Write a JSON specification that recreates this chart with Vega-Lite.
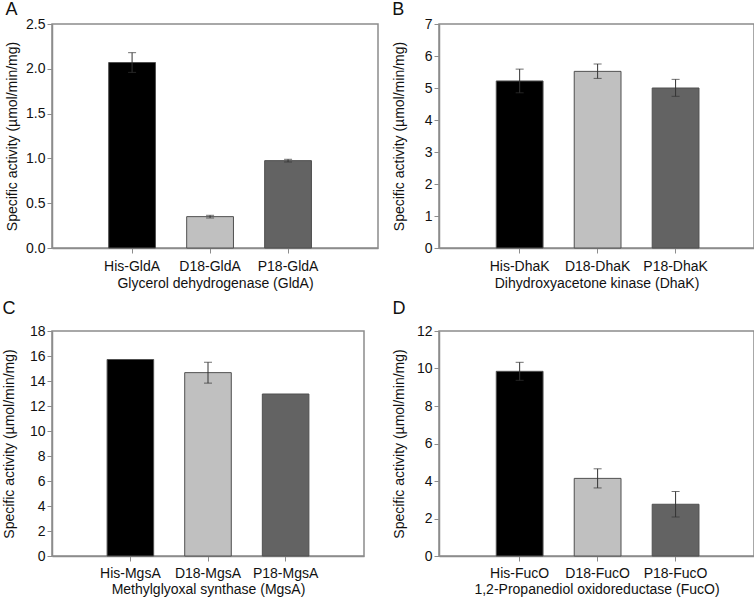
{
  "$schema": "https://vega.github.io/schema/vega-lite/v6.json",
  "padding": {"left": 1, "top": 0, "right": 0, "bottom": 0},
  "background": "white",
  "columns": 2,
  "spacing": {"row": 8, "column": 12},
  "config": {
    "font": "Liberation Sans",
    "view": {"stroke": "#8c8c8c", "strokeWidth": 1.5},
    "axis": {"domainColor": "#8c8c8c", "tickColor": "#8c8c8c", "labelFontSize": 14, "titleFontSize": 14, "titleFontWeight": "normal", "labelColor": "#111", "titleColor": "#111", "grid": false, "tickSize": 5, "domainWidth": 1.5, "labelOverlap": false},
    "axisX": {"labelAngle": 0, "labelPadding": 6, "titlePadding": 3},
    "axisY": {"labelPadding": 2, "labelFlush": false},
    "title": {"fontSize": 18, "fontWeight": "normal", "anchor": "start", "frame": "bounds", "offset": -2, "color": "#111"},
    "legend": {"disable": true}
  },
  "concat": [
    {
      "title": "A",
      "width": 326, "height": 224,
      "data": {"values": [
        {"label": "His-GldA", "variant": "His", "value": 2.07, "lo": 1.96, "hi": 2.18},
        {"label": "D18-GldA", "variant": "D18", "value": 0.35, "lo": 0.335, "hi": 0.365},
        {"label": "P18-GldA", "variant": "P18", "value": 0.975, "lo": 0.96, "hi": 0.99}
      ]},
      "encoding": {
        "x": {"field": "label", "type": "nominal", "sort": null, "scale": {"paddingInner": 0.4, "paddingOuter": 0.79, "align": 0.46}, "axis": {"title": "Glycerol dehydrogenase (GldA)"}}
      },
      "layer": [
        {"mark": {"type": "bar", "stroke": "#505050", "strokeWidth": 1},
         "encoding": {
           "y": {"field": "value", "type": "quantitative", "scale": {"domain": [0, 2.5], "nice": false}, "axis": {"values": [0, 0.5, 1, 1.5, 2, 2.5], "format": ".1f", "title": "Specific activity (µmol/min/mg)", "titlePadding": 6}},
           "color": {"field": "variant", "type": "nominal", "scale": {"domain": ["His", "D18", "P18"], "range": ["#000000", "#c0c0c0", "#636363"]}}
         }},
        {"mark": {"type": "rule", "color": "#333"}, "encoding": {"y": {"field": "lo", "type": "quantitative", "axis": {"values": [0, 0.5, 1, 1.5, 2, 2.5], "format": ".1f", "title": "Specific activity (µmol/min/mg)", "titlePadding": 6}}, "y2": {"field": "hi"}}},
        {"mark": {"type": "tick", "color": "#333", "size": 8, "thickness": 1}, "encoding": {"y": {"field": "lo", "type": "quantitative", "axis": {"values": [0, 0.5, 1, 1.5, 2, 2.5], "format": ".1f", "title": "Specific activity (µmol/min/mg)", "titlePadding": 6}}}},
        {"mark": {"type": "tick", "color": "#333", "size": 8, "thickness": 1}, "encoding": {"y": {"field": "hi", "type": "quantitative", "axis": {"values": [0, 0.5, 1, 1.5, 2, 2.5], "format": ".1f", "title": "Specific activity (µmol/min/mg)", "titlePadding": 6}}}}
      ]
    },
    {
      "title": "B",
      "width": 315, "height": 224,
      "data": {"values": [
        {"label": "His-DhaK", "variant": "His", "value": 5.22, "lo": 4.85, "hi": 5.59},
        {"label": "D18-DhaK", "variant": "D18", "value": 5.52, "lo": 5.3, "hi": 5.75},
        {"label": "P18-DhaK", "variant": "P18", "value": 5.0, "lo": 4.74, "hi": 5.27}
      ]},
      "encoding": {
        "x": {"field": "label", "type": "nominal", "sort": null, "scale": {"paddingInner": 0.4, "paddingOuter": 0.72, "align": 0.51}, "axis": {"title": "Dihydroxyacetone kinase (DhaK)"}}
      },
      "layer": [
        {"mark": {"type": "bar", "stroke": "#505050", "strokeWidth": 1},
         "encoding": {
           "y": {"field": "value", "type": "quantitative", "scale": {"domain": [0, 7], "nice": false}, "axis": {"values": [0, 1, 2, 3, 4, 5, 6, 7], "title": "Specific activity (µmol/min/mg)", "titlePadding": 18}},
           "color": {"field": "variant", "type": "nominal", "scale": {"domain": ["His", "D18", "P18"], "range": ["#000000", "#c0c0c0", "#636363"]}}
         }},
        {"mark": {"type": "rule", "color": "#333"}, "encoding": {"y": {"field": "lo", "type": "quantitative", "axis": {"values": [0, 1, 2, 3, 4, 5, 6, 7], "title": "Specific activity (µmol/min/mg)", "titlePadding": 18}}, "y2": {"field": "hi"}}},
        {"mark": {"type": "tick", "color": "#333", "size": 8, "thickness": 1}, "encoding": {"y": {"field": "lo", "type": "quantitative", "axis": {"values": [0, 1, 2, 3, 4, 5, 6, 7], "title": "Specific activity (µmol/min/mg)", "titlePadding": 18}}}},
        {"mark": {"type": "tick", "color": "#333", "size": 8, "thickness": 1}, "encoding": {"y": {"field": "hi", "type": "quantitative", "axis": {"values": [0, 1, 2, 3, 4, 5, 6, 7], "title": "Specific activity (µmol/min/mg)", "titlePadding": 18}}}}
      ]
    },
    {
      "title": {"text": "C", "offset": 6},
      "width": 312, "height": 225,
      "data": {"values": [
        {"label": "His-MgsA", "variant": "His", "value": 15.72},
        {"label": "D18-MgsA", "variant": "D18", "value": 14.67, "lo": 13.83, "hi": 15.5},
        {"label": "P18-MgsA", "variant": "P18", "value": 12.96}
      ]},
      "encoding": {
        "x": {"field": "label", "type": "nominal", "sort": null, "scale": {"paddingInner": 0.4, "paddingOuter": 0.71, "align": 0.5}, "axis": {"title": "Methylglyoxal synthase (MgsA)", "labelPadding": 5, "titlePadding": 2}}
      },
      "layer": [
        {"mark": {"type": "bar", "stroke": "#505050", "strokeWidth": 1},
         "encoding": {
           "y": {"field": "value", "type": "quantitative", "scale": {"domain": [0, 18], "nice": false}, "axis": {"values": [0, 2, 4, 6, 8, 10, 12, 14, 16, 18], "title": "Specific activity (µmol/min/mg)", "titlePadding": 13}},
           "color": {"field": "variant", "type": "nominal", "scale": {"domain": ["His", "D18", "P18"], "range": ["#000000", "#c0c0c0", "#636363"]}}
         }},
        {"mark": {"type": "rule", "color": "#333"}, "encoding": {"y": {"field": "lo", "type": "quantitative", "axis": {"values": [0, 2, 4, 6, 8, 10, 12, 14, 16, 18], "title": "Specific activity (µmol/min/mg)", "titlePadding": 13}}, "y2": {"field": "hi"}}},
        {"mark": {"type": "tick", "color": "#333", "size": 8, "thickness": 1}, "encoding": {"y": {"field": "lo", "type": "quantitative", "axis": {"values": [0, 2, 4, 6, 8, 10, 12, 14, 16, 18], "title": "Specific activity (µmol/min/mg)", "titlePadding": 13}}}},
        {"mark": {"type": "tick", "color": "#333", "size": 8, "thickness": 1}, "encoding": {"y": {"field": "hi", "type": "quantitative", "axis": {"values": [0, 2, 4, 6, 8, 10, 12, 14, 16, 18], "title": "Specific activity (µmol/min/mg)", "titlePadding": 13}}}}
      ]
    },
    {
      "title": {"text": "D", "offset": 6},
      "width": 315, "height": 225,
      "data": {"values": [
        {"label": "His-FucO", "variant": "His", "value": 9.85, "lo": 9.37, "hi": 10.33},
        {"label": "D18-FucO", "variant": "D18", "value": 4.14, "lo": 3.63, "hi": 4.65},
        {"label": "P18-FucO", "variant": "P18", "value": 2.76, "lo": 2.08, "hi": 3.44}
      ]},
      "encoding": {
        "x": {"field": "label", "type": "nominal", "sort": null, "scale": {"paddingInner": 0.4, "paddingOuter": 0.72, "align": 0.51}, "axis": {"title": "1,2-Propanediol oxidoreductase (FucO)", "labelPadding": 5, "titlePadding": 2}}
      },
      "layer": [
        {"mark": {"type": "bar", "stroke": "#505050", "strokeWidth": 1},
         "encoding": {
           "y": {"field": "value", "type": "quantitative", "scale": {"domain": [0, 12], "nice": false}, "axis": {"values": [0, 2, 4, 6, 8, 10, 12], "title": "Specific activity (µmol/min/mg)", "titlePadding": 10}},
           "color": {"field": "variant", "type": "nominal", "scale": {"domain": ["His", "D18", "P18"], "range": ["#000000", "#c0c0c0", "#636363"]}}
         }},
        {"mark": {"type": "rule", "color": "#333"}, "encoding": {"y": {"field": "lo", "type": "quantitative", "axis": {"values": [0, 2, 4, 6, 8, 10, 12], "title": "Specific activity (µmol/min/mg)", "titlePadding": 10}}, "y2": {"field": "hi"}}},
        {"mark": {"type": "tick", "color": "#333", "size": 8, "thickness": 1}, "encoding": {"y": {"field": "lo", "type": "quantitative", "axis": {"values": [0, 2, 4, 6, 8, 10, 12], "title": "Specific activity (µmol/min/mg)", "titlePadding": 10}}}},
        {"mark": {"type": "tick", "color": "#333", "size": 8, "thickness": 1}, "encoding": {"y": {"field": "hi", "type": "quantitative", "axis": {"values": [0, 2, 4, 6, 8, 10, 12], "title": "Specific activity (µmol/min/mg)", "titlePadding": 10}}}}
      ]
    }
  ]
}
